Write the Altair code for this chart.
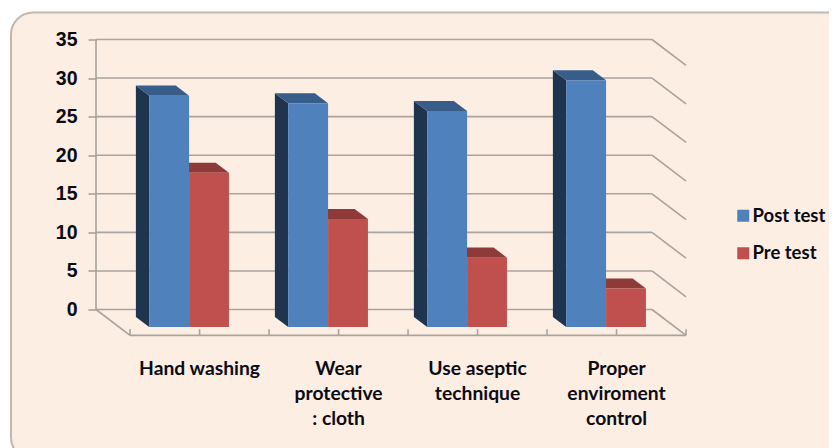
import altair as alt
import pandas as pd

categories = ["Hand washing", "Wear\nprotective\n: cloth", "Use aseptic\ntechnique", "Proper\nenviroment\ncontrol"]
post_test = [30, 29, 28, 32]
pre_test = [20, 14, 9, 5]
y_ticks = [0, 5, 10, 15, 20, 25, 30, 35]
series_names = ["Post test", "Pre test"]

# oblique projection, expressed in data units
DEPTH_X = 0.245   # full floor depth along x (category units)
DEPTH_Y = 3.35    # full floor depth along y (value units)
BAR_FRONT = 0.68  # depth of a bar's front face
BAR_BACK = 0.29   # depth of a bar's back face
BAR_START = 0.216 # gap from the category start to the first bar
BAR_W = 0.287     # bar width in category units

GRID = "#A8A39E"
TEXT = "#0B0B14"
FONT_CAT = "Lato"
FONT_NUM = "Liberation Sans"


def proj_x(x, d):
    return x + d * DEPTH_X


def proj_y(y, d):
    return y - d * DEPTH_Y


bars = []
for i in range(4):
    for s, vals, pos in (("Post test", post_test, 0), ("Pre test", pre_test, 1)):
        x0 = i + BAR_START + pos * BAR_W
        bars.append(dict(key=f"{i}-{s}", series=s, x0=x0, x1=x0 + BAR_W, v=vals[i]))

front, side, top = [], [], []
for b in bars:
    front.append(dict(series=b["series"],
                      x=proj_x(b["x0"], BAR_FRONT), x2=proj_x(b["x1"], BAR_FRONT),
                      y=proj_y(b["v"], BAR_FRONT), y2=proj_y(0, BAR_FRONT)))
    for d in (BAR_BACK, BAR_FRONT):
        side.append(dict(key=b["key"], series=b["series"], x=proj_x(b["x0"], d),
                         y=proj_y(b["v"], d), y2=proj_y(0, d)))
        top.append(dict(key=b["key"], series=b["series"], y=proj_y(b["v"], d),
                        x=proj_x(b["x0"], d), x2=proj_x(b["x1"], d)))
front = pd.DataFrame(front)
side = pd.DataFrame(side)
top = pd.DataFrame(top)

walls = []
for t in y_ticks:
    walls.append(dict(x=0, x2=4, y=t, y2=t))
    walls.append(dict(x=4, x2=proj_x(4, 1), y=t, y2=proj_y(t, 1)))
walls.append(dict(x=0, x2=0, y=0, y2=35))
walls.append(dict(x=0, x2=proj_x(0, 1), y=0, y2=proj_y(0, 1)))
walls.append(dict(x=proj_x(0, 1), x2=proj_x(4, 1), y=proj_y(0, 1), y2=proj_y(0, 1)))
for k in range(9):
    walls.append(dict(x=proj_x(k / 2, 1), x2=proj_x(k / 2, 1), y=proj_y(0, 1), y2=proj_y(0, 1) + 0.8))
walls = pd.DataFrame(walls)

labels = pd.DataFrame([dict(x=proj_x(i + 0.5, 1), y=-6.55, text=c) for i, c in enumerate(categories)])

y_axis = alt.Axis(
    values=y_ticks, title=None, domain=False, grid=False, zindex=1,
    tickColor=GRID, tickWidth=1.6, tickSize=8, labelPadding=11,
    labelFont=FONT_NUM, labelFontSize=19.5, labelFontWeight="bold", labelColor=TEXT,
)
xs = alt.Scale(domain=[0, 4], nice=False, zero=False)
ys = alt.Scale(domain=[0, 35], nice=False, zero=False)
X = alt.X("x:Q", scale=xs, axis=None)
Y = alt.Y("y:Q", scale=ys, axis=y_axis)

panel = alt.Chart(pd.DataFrame({"a": [1]})).mark_rect(
    fill="#FCEEE3", stroke="#BDB8B3", strokeWidth=2, cornerRadius=22
).encode(x=alt.value(-85), x2=alt.value(756), y=alt.value(-27), y2=alt.value(420))

wall = alt.Chart(walls).mark_rule(color=GRID, strokeWidth=1.6).encode(
    x=X, x2="x2:Q", y=Y, y2="y2:Q",
)


def side_layer(series, color):
    return alt.Chart(side[side.series == series]).mark_area(orient="vertical", color=color).encode(
        x=X, y=Y, y2="y2:Q", detail="key:N")


def top_layer(series, color):
    return alt.Chart(top[top.series == series]).mark_area(orient="horizontal", color=color).encode(
        y=Y, x=X, x2="x2:Q", detail="key:N")


fronts = alt.Chart(front).mark_rect().encode(
    x=X, x2="x2:Q", y=Y, y2="y2:Q",
    color=alt.Color("series:N", scale=alt.Scale(domain=series_names, range=["#4F81BD", "#C0504D"]),
                    legend=alt.Legend(orient="none", legendX=638, legendY=167, title=None,
                                      symbolType="square", symbolSize=144, symbolStrokeWidth=0,
                                      labelFont=FONT_CAT, labelFontSize=18.5, labelFontWeight="bold",
                                      labelColor=TEXT, labelOffset=0, rowPadding=18.5)),
)

text = alt.Chart(labels).mark_text(
    font=FONT_CAT, fontSize=19.3, fontWeight="bold", color=TEXT, baseline="top",
    lineBreak="\n", lineHeight=25, align="center",
).encode(x=X, y=Y, text="text:N")

chart = alt.layer(
    panel, wall,
    side_layer("Pre test", "#8E3A38"), top_layer("Pre test", "#8E3A38"),
    side_layer("Post test", "#1F344E"), top_layer("Post test", "#385D8A"),
    fronts, text,
).properties(
    width=556, height=270,
    autosize=alt.AutoSizeParams(type="none"),
    padding={"left": 88, "top": 31.5, "right": 177, "bottom": 138.5},
    background="#FFFFFF",
).configure_view(stroke=None)

chart.save("out.html", embed_options={"renderer": "svg", "actions": False})
